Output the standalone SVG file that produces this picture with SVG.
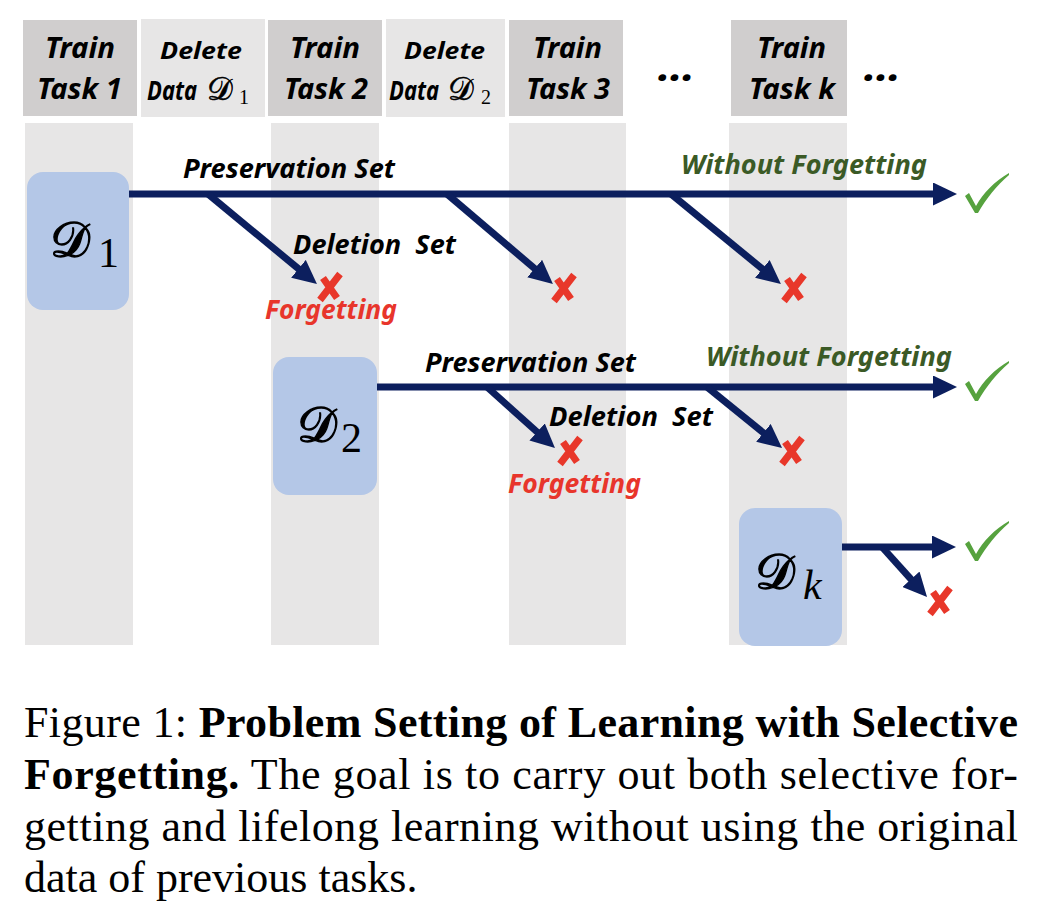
<svg xmlns="http://www.w3.org/2000/svg" width="1038" height="920" viewBox="0 0 1038 920">
<style>
.hdrT{fill:#d0cece}
.hdrD{fill:#e7e6e6}
.col{fill:#e7e6e6}
.dbox{fill:#b4c7e7}
.ht{font-family:"Noto Sans","Open Sans","Liberation Sans",sans-serif;font-weight:bold;font-style:italic;fill:#000}
.lbl{font-family:"Noto Sans","Open Sans","Liberation Sans",sans-serif;font-weight:bold;font-style:italic;font-size:27px}
.blk{fill:#000}
.red{fill:#e8352b}
.grn{fill:#3b5a26}
.math{font-family:"DejaVu Serif","DejaVu Sans","Liberation Serif",serif;fill:#000}
.bigm{stroke:#000;stroke-width:1.3}
.smm{stroke:#000;stroke-width:0.6}
.sub{font-family:"Liberation Serif","DejaVu Serif",serif;fill:#000}
.arr{stroke:#0c1f5e;stroke-width:7;fill:none}
.cap{font-family:"Liberation Serif","Times New Roman",serif;font-size:44px;fill:#000}
</style>
<defs>
<marker id="ah" markerUnits="userSpaceOnUse" markerWidth="24" markerHeight="23" refX="9" refY="11.5" orient="auto">
<path d="M0,0 L24,11.5 L0,23 Z" fill="#0c1f5e"/>
</marker>
<g id="xm">
<path d="M-10,13 L10,-13 M-7,-9 L7,11" stroke="#e8372a" stroke-width="7" fill="none"/>
</g>
<path id="ck" d="M0,23 L4,20 L11,33 C18,20 30,8 44,0 L44,2 C32,12 21,26 13,40 L10,40 Z" fill="#56a23e"/>
</defs>

<g id="columns">
<rect class="col" x="25" y="123" width="108" height="522"/>
<rect class="col" x="271" y="123" width="108" height="522"/>
<rect class="col" x="509" y="123" width="117" height="522"/>
<rect class="col" x="729" y="123" width="118" height="522"/>
</g>

<g id="hdr-train1">
<rect class="hdrT" x="23" y="20" width="114" height="96"/>
<text class="ht" font-size="28" x="45" y="58" textLength="70" lengthAdjust="spacingAndGlyphs">Train</text>
<text class="ht" font-size="28" x="37" y="99" textLength="85" lengthAdjust="spacingAndGlyphs">Task 1</text>
</g>
<g id="hdr-delete1">
<rect class="hdrD" x="141" y="19" width="124" height="98"/>
<text class="ht" font-size="23" x="160" y="59" textLength="82" lengthAdjust="spacingAndGlyphs">Delete</text>
<text class="ht" font-size="27" x="147" y="100" textLength="50" lengthAdjust="spacingAndGlyphs">Data</text>
<text class="math smm" font-size="32" x="207" y="100">𝒟</text>
<text class="sub" font-size="20" x="239" y="104">1</text>
</g>
<g id="hdr-train2">
<rect class="hdrT" x="268" y="20" width="114" height="96"/>
<text class="ht" font-size="28" x="290" y="58" textLength="70" lengthAdjust="spacingAndGlyphs">Train</text>
<text class="ht" font-size="28" x="284" y="99" textLength="84" lengthAdjust="spacingAndGlyphs">Task 2</text>
</g>
<g id="hdr-delete2">
<rect class="hdrD" x="386" y="19" width="119" height="98"/>
<text class="ht" font-size="23" x="404" y="59" textLength="81" lengthAdjust="spacingAndGlyphs">Delete</text>
<text class="ht" font-size="27" x="389" y="100" textLength="50" lengthAdjust="spacingAndGlyphs">Data</text>
<text class="math smm" font-size="32" x="448" y="100">𝒟</text>
<text class="sub" font-size="20" x="481" y="104">2</text>
</g>
<g id="hdr-train3">
<rect class="hdrT" x="509" y="20" width="114" height="96"/>
<text class="ht" font-size="28" x="533" y="58" textLength="69" lengthAdjust="spacingAndGlyphs">Train</text>
<text class="ht" font-size="28" x="526" y="99" textLength="84" lengthAdjust="spacingAndGlyphs">Task 3</text>
</g>
<g id="hdr-dots1">
<text class="ht" font-size="40" x="658" y="81" textLength="37" lengthAdjust="spacingAndGlyphs">…</text>
</g>
<g id="hdr-traink">
<rect class="hdrT" x="731" y="20" width="116" height="96"/>
<text class="ht" font-size="28" x="757" y="58" textLength="69" lengthAdjust="spacingAndGlyphs">Train</text>
<text class="ht" font-size="28" x="749" y="99" textLength="86" lengthAdjust="spacingAndGlyphs">Task k</text>
</g>
<g id="hdr-dots2">
<text class="ht" font-size="40" x="864" y="81" textLength="37" lengthAdjust="spacingAndGlyphs">…</text>
</g>

<g id="node-D1">
<rect class="dbox" x="27" y="172" width="102" height="138" rx="16"/>
<text class="math bigm" font-size="50" x="50" y="257">𝒟</text>
<text class="sub" font-size="42" x="98" y="267">1</text>
</g>
<g id="node-D2">
<rect class="dbox" x="273" y="357" width="104" height="138" rx="16"/>
<text class="math bigm" font-size="50" x="297" y="442">𝒟</text>
<text class="sub" font-size="42" x="341" y="452">2</text>
</g>
<g id="node-Dk">
<rect class="dbox" x="739" y="508" width="103" height="138" rx="16"/>
<text class="math bigm" font-size="50" x="755" y="589">𝒟</text>
<text class="sub" font-size="42" font-style="italic" x="803" y="599">k</text>
</g>

<g id="connectors">
<path class="arr" d="M129,194 L942,194" marker-end="url(#ah)"/>
<path class="arr" d="M208,194 L305.4,274.5" marker-end="url(#ah)"/>
<path class="arr" d="M447,194 L541.5,274.4" marker-end="url(#ah)"/>
<path class="arr" d="M671,194 L769.3,274.6" marker-end="url(#ah)"/>
<path class="arr" d="M377,387 L942,387" marker-end="url(#ah)"/>
<path class="arr" d="M487,387 L543.8,438" marker-end="url(#ah)"/>
<path class="arr" d="M707,387 L770.4,438.5" marker-end="url(#ah)"/>
<path class="arr" d="M842,547 L941,547" marker-end="url(#ah)"/>
<path class="arr" d="M882,547 L917,585.9" marker-end="url(#ah)"/>
</g>

<g id="labels">
<text class="lbl blk" x="183" y="178" textLength="212" lengthAdjust="spacingAndGlyphs">Preservation Set</text>
<text class="lbl grn" x="681" y="174" textLength="246" lengthAdjust="spacingAndGlyphs">Without Forgetting</text>
<text class="lbl blk" x="293" y="254" textLength="163" lengthAdjust="spacingAndGlyphs" xml:space="preserve">Deletion  Set</text>
<text class="lbl red" x="265" y="319" textLength="132" lengthAdjust="spacingAndGlyphs">Forgetting</text>
<text class="lbl blk" x="425" y="372" textLength="211" lengthAdjust="spacingAndGlyphs">Preservation Set</text>
<text class="lbl grn" x="706" y="366" textLength="246" lengthAdjust="spacingAndGlyphs">Without Forgetting</text>
<text class="lbl blk" x="549" y="426" textLength="164" lengthAdjust="spacingAndGlyphs" xml:space="preserve">Deletion  Set</text>
<text class="lbl red" x="508" y="493" textLength="133" lengthAdjust="spacingAndGlyphs">Forgetting</text>
</g>

<g id="marks">
<use href="#xm" x="330" y="287"/>
<use href="#xm" x="564" y="288"/>
<use href="#xm" x="794" y="288"/>
<use href="#xm" x="570" y="451"/>
<use href="#xm" x="792" y="451"/>
<use href="#xm" x="940" y="601"/>
<use href="#ck" x="965" y="173"/>
<use href="#ck" x="965" y="361"/>
<use href="#ck" x="965" y="521"/>
</g>

<g id="caption">
<text class="cap" x="24" y="737" textLength="994" lengthAdjust="spacing">Figure 1: <tspan font-weight="bold">Problem Setting of Learning with Selective</tspan></text>
<text class="cap" x="24" y="789" textLength="994" lengthAdjust="spacing"><tspan font-weight="bold">Forgetting.</tspan>  The goal is to carry out both selective for-</text>
<text class="cap" x="24" y="841" textLength="994" lengthAdjust="spacing">getting and lifelong learning without using the original</text>
<text class="cap" x="24" y="892">data of previous tasks.</text>
</g>
</svg>
